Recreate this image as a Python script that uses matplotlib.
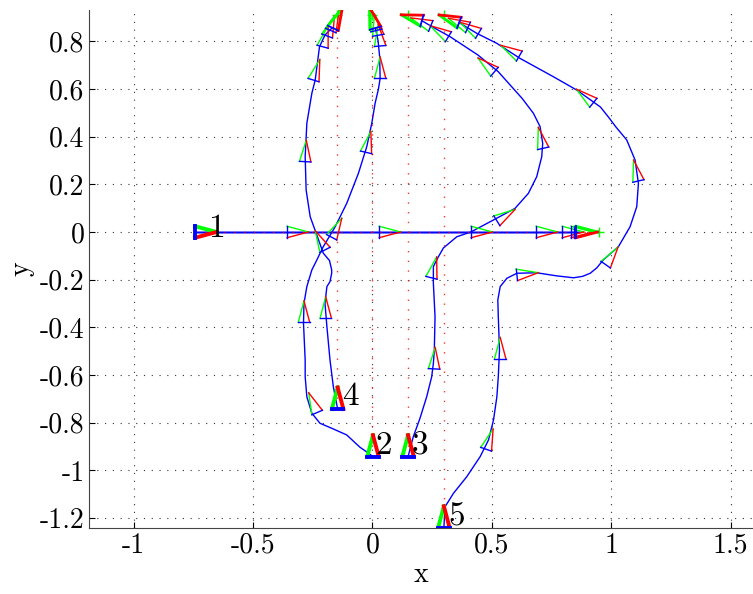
import numpy as np
import matplotlib
matplotlib.use("Agg")
import matplotlib.pyplot as plt

plt.rcParams['font.family'] = 'cmr10'
plt.rcParams['axes.unicode_minus'] = False

# reference paths (straight lines the robots should follow)
ref_x = [[-0.745, 0.95], [0.0, 0.0], [0.15, 0.15], [-0.15, -0.15], [0.3, 0.3]]
ref_y = [[0.0, 0.0], [-0.94, 0.91], [-0.94, 0.91], [-0.74, 0.91], [-1.24, 0.91]]

# actual robot paths
path1_x = [-0.743, 0.86]
path1_y = [0.0, 0.0]
path2_x = [0.002, -0.020, -0.052, -0.108, -0.164, -0.220, -0.254, -0.275, -0.282, -0.282,
           -0.289, -0.287, -0.275, -0.254, -0.233, -0.207, -0.157, -0.108, -0.059, -0.024,
           -0.003, 0.011, 0.025, 0.032, 0.030, 0.023, 0.012]
path2_y = [-0.942, -0.925, -0.903, -0.851, -0.826, -0.802, -0.760, -0.691, -0.607, -0.537,
           -0.383, -0.299, -0.229, -0.159, -0.117, -0.063, 0.021, 0.120, 0.246, 0.358,
           0.456, 0.540, 0.600, 0.644, 0.735, 0.805, 0.855]
path3_x = [0.149, 0.171, 0.199, 0.227, 0.248, 0.255, 0.259, 0.262, 0.255, 0.255, 0.276,
           0.297, 0.353, 0.412, 0.506, 0.597, 0.653, 0.688, 0.709, 0.713, 0.702, 0.674,
           0.627, 0.527, 0.442, 0.325, 0.244, 0.207]
path3_y = [-0.942, -0.858, -0.781, -0.691, -0.607, -0.551, -0.495, -0.355, -0.215, -0.145,
           -0.104, -0.067, -0.020, 0.000, 0.050, 0.099, 0.162, 0.232, 0.316, 0.372, 0.442,
           0.498, 0.560, 0.672, 0.742, 0.819, 0.864, 0.886]
path4_x = [-0.146, -0.164, -0.178, -0.191, -0.199, -0.191, -0.178, -0.171, -0.171, -0.180,
           -0.206, -0.236, -0.261, -0.278, -0.282, -0.275, -0.254, -0.240, -0.222, -0.199,
           -0.170]
path4_y = [-0.742, -0.649, -0.537, -0.397, -0.299, -0.229, -0.208, -0.173, -0.159, -0.120,
           -0.089, -0.005, 0.064, 0.176, 0.316, 0.456, 0.582, 0.637, 0.777, 0.826, 0.855]
path5_x = [0.299, 0.304, 0.339, 0.395, 0.451, 0.486, 0.507, 0.521, 0.527, 0.532, 0.527,
           0.525, 0.535, 0.563, 0.605, 0.688, 0.772, 0.842, 0.880, 0.912, 0.940, 0.967,
           1.030, 1.079, 1.107, 1.114, 1.100, 1.065, 1.020, 0.990, 0.955, 0.856, 0.758,
           0.618, 0.521, 0.437, 0.363]
path5_y = [-1.240, -1.152, -1.096, -1.026, -0.942, -0.872, -0.788, -0.691, -0.607, -0.495,
           -0.355, -0.285, -0.229, -0.194, -0.173, -0.171, -0.184, -0.192, -0.186, -0.173,
           -0.150, -0.117, -0.062, 0.022, 0.106, 0.204, 0.302, 0.386, 0.440, 0.480, 0.524,
           0.595, 0.651, 0.728, 0.791, 0.833, 0.878]

# sampled poses (x, y, heading in degrees); first and last are drawn bold
poses1 = [(-0.743, 0, 0), (-0.358, 0, 0), (0.028, 0, 0), (0.413, 0, 0), (0.686, 0, 0),
          (0.795, 0, 0), (0.832, 0, 0), (0.845, 0, 0), (0.853, 0, 0)]
poses2 = [(0.002, -0.942, 90), (-0.232, -0.757, 113), (-0.287, -0.379, 90),
          (-0.171, -0.022, 62), (-0.027, 0.334, 77), (0.032, 0.644, 90),
          (0.032, 0.780, 95), (0.024, 0.825, 100), (0.016, 0.845, 104), (0.012, 0.855, 106)]
poses3 = [(0.149, -0.942, 90), (0.258, -0.574, 87), (0.247, -0.192, 76), (0.521, 0.047, 32),
          (0.715, 0.351, 103), (0.511, 0.672, 140), (0.318, 0.819, 149), (0.244, 0.864, 158),
          (0.207, 0.886, 164)]
poses4 = [(-0.146, -0.742, 90), (-0.196, -0.362, 90), (-0.199, -0.075, 117),
          (-0.282, 0.295, 87), (-0.247, 0.637, 73), (-0.209, 0.777, 75), (-0.19, 0.822, 70),
          (-0.175, 0.845, 67), (-0.165, 0.855, 65)]
poses5 = [(0.299, -1.240, 90), (0.476, -0.911, 71), (0.535, -0.532, 90), (0.605, -0.180, 6),
          (0.977, -0.137, 55), (1.114, 0.214, 103), (0.925, 0.542, 141), (0.615, 0.738, 150),
          (0.444, 0.833, 149), (0.400, 0.858, 155), (0.363, 0.878, 159)]

labels = ['1', '2', '3', '4', '5']
label_x = [-0.689, 0.011, 0.165, -0.129, 0.317]
label_y = [0.013, -0.897, -0.897, -0.69, -1.194]

xticks = [-1, -0.5, 0, 0.5, 1, 1.5]
xtick_labels = ['-1', '-0.5', '0', '0.5', '1', '1.5']
yticks = [-1.2, -1, -0.8, -0.6, -0.4, -0.2, 0, 0.2, 0.4, 0.6, 0.8]
ytick_labels = ['-1.2', '-1', '-0.8', '-0.6', '-0.4', '-0.2', '0', '0.2', '0.4', '0.6', '0.8']

L = 0.09   # triangle length
W = 0.024  # half of the base


def draw_robot(ax, x, y, th, lw, lw_base):
    t = np.deg2rad(th)
    apex = (x + L*np.cos(t), y + L*np.sin(t))
    left = (x - W*np.sin(t), y + W*np.cos(t))
    right = (x + W*np.sin(t), y - W*np.cos(t))
    ax.plot([apex[0], left[0]], [apex[1], left[1]], color=(0, 1, 0), lw=lw)
    ax.plot([apex[0], right[0]], [apex[1], right[1]], color=(1, 0, 0), lw=lw)
    ax.plot([left[0], right[0]], [left[1], right[1]], color=(0, 0, 1), lw=lw_base)


fig = plt.figure(figsize=(7.53, 5.94), dpi=100)
ax = fig.add_axes([0.1187, 0.1116, 0.8813, 0.8724])

ax.set_xlim(-1.186, 1.594)
ax.set_ylim(-1.240, 0.933)
ax.set_xticks(xticks)
ax.set_xticklabels(xtick_labels)
ax.set_yticks(yticks)
ax.set_yticklabels(ytick_labels)
ax.grid(True, color='#333333', linestyle=(0, (1, 6)), lw=0.8)
ax.set_axisbelow(True)
ax.tick_params(direction='in', length=4, labelsize=20, top=False, right=False)
for s in ['top', 'right']:
    ax.spines[s].set_visible(False)
for s in ['left', 'bottom']:
    ax.spines[s].set_color('#444444')

paths = [(path1_x, path1_y), (path2_x, path2_y), (path3_x, path3_y),
         (path4_x, path4_y), (path5_x, path5_y)]
for px, py in paths:
    ax.plot(px, py, color='blue', lw=1)
ax.plot(path1_x, path1_y, color='blue', lw=2.0, alpha=0.45)

for rx, ry in zip(ref_x, ref_y):
    ax.plot(rx, ry, color='red', lw=1, linestyle=(0, (1, 6)), alpha=0.8)
    ax.plot(rx[1], ry[1], '+', color=(0, 1, 0), ms=7, mew=1)

for poses in [poses1, poses2, poses3, poses4, poses5]:
    for i, (x, y, th) in enumerate(poses):
        if i == 0:
            draw_robot(ax, x, y, th, 2.8, 2.8)
        elif i == len(poses) - 1:
            draw_robot(ax, x, y, th, 2.0, 1.3)
        else:
            draw_robot(ax, x, y, th, 1.0, 1.0)

for lab, lx, ly in zip(labels, label_x, label_y):
    ax.text(lx, ly, lab, fontsize=24, ha='left', va='center')

ax.set_xlabel('x', fontsize=20, labelpad=2)
ax.set_ylabel('y', fontsize=20, labelpad=4)

fig.savefig('out.png', dpi=100)
